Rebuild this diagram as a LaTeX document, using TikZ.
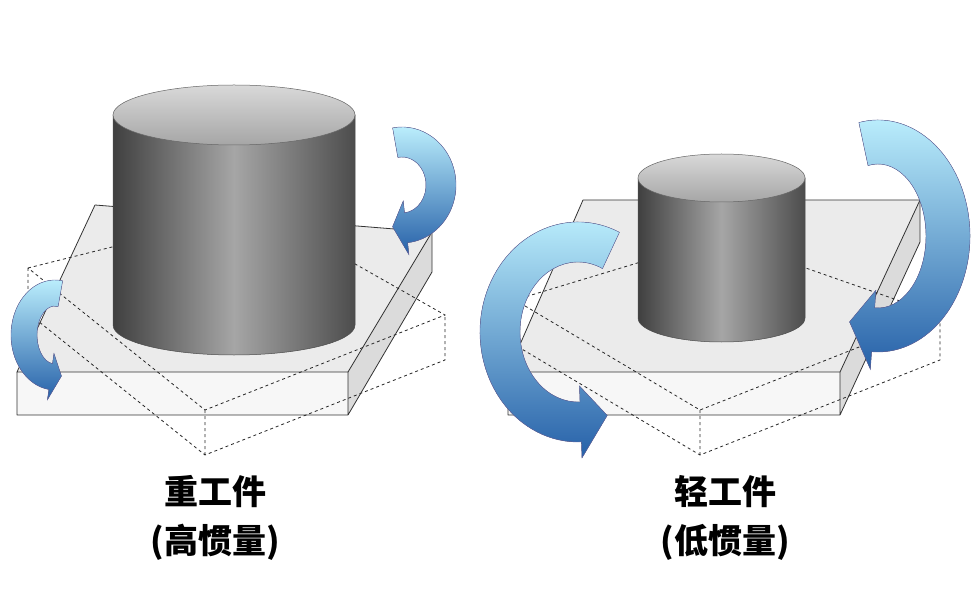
\documentclass[tikz,border=0pt]{standalone}
\usepackage{fontspec}
\newfontfamily\cjk{Noto Sans CJK SC}
\begin{document}
\begin{tikzpicture}[x=1pt,y=-1pt,
  plate/.style={draw=black!80,line width=0.8pt,line join=round},
  dplate/.style={draw=black!85,dashed,line width=0.8pt},
  lbl/.style={font=\cjk\bfseries\fontsize{34}{38}\selectfont}]
\useasboundingbox (0,0) rectangle (976,609);
\fill[white] (0,0) rectangle (976,609);
% ribbon macro: cx cy rx ry w a1 a2 sign
\newcommand\ribbon[8]{%
 \begin{scope}[shift={(#1,#2)}]
  \pgfmathsetmacro\ox{#3}\pgfmathsetmacro\oy{#4}
  \pgfmathsetmacro\ix{#3-#5}\pgfmathsetmacro\iy{#4-#5}
  \pgfmathsetmacro\fx{#3+0.4*#5}\pgfmathsetmacro\fy{#4+0.4*#5}
  \pgfmathsetmacro\gx{#3-1.4*#5}\pgfmathsetmacro\gy{#4-1.4*#5}
  \pgfmathsetmacro\mx{#3-0.5*#5}\pgfmathsetmacro\my{#4-0.5*#5}
  \pgfmathsetmacro\ta{#7+#8*20}
  \fill[top color=blue!20!cyan!25!white,bottom color=blue!55!cyan!60!black!85,draw=blue!40!black!60,line width=0.4pt]
   ({\ox*cos(#6)},{\oy*sin(#6)}) arc[start angle=#6,end angle=#7,x radius=\ox,y radius=\oy]
   -- ({\fx*cos(#7)},{\fy*sin(#7)}) -- ({\mx*cos(\ta)},{\my*sin(\ta)}) -- ({\gx*cos(#7)},{\gy*sin(#7)})
   -- ({\ix*cos(#7)},{\iy*sin(#7)}) arc[start angle=#7,end angle=#6,x radius=\ix,y radius=\iy] -- cycle;
 \end{scope}}
\newcommand\cyl[5]{% x1 x2 ytop ybot ry
  \pgfmathsetmacro\cx{(#1+#2)/2}\pgfmathsetmacro\rx{(#2-#1)/2}
  \shade[left color=black!75,right color=black!70,middle color=black!35,draw=black!70,line width=0.5pt]
   (#1,#3) -- (#1,#4) arc[start angle=180,end angle=0,x radius=\rx,y radius=#5] -- (#2,#3) -- cycle;
  \shade[top color=black!15,bottom color=black!35,draw=black!60,line width=0.5pt]
   (\cx,#3) ellipse[x radius=\rx,y radius=#5];}
% ---- left plate
\fill[black!8] (17,372) -- (95,205) -- (432,232) -- (348,372) -- cycle;
\fill[black!14] (348,372) -- (432,232) -- (432,272) -- (348,415) -- cycle;
\fill[black!3] (17,372) rectangle (348,415);
\draw[plate] (17,372) -- (95,205) -- (432,232) -- (348,372) -- cycle;
\draw[plate] (17,372) -- (17,415) -- (348,415) -- (348,372) (348,415) -- (432,272) -- (432,232);
\draw[dplate] (28,268) -- (260,210) -- (445,315) -- (205,410) -- cycle;
\draw[dplate] (28,268) -- (28,313) -- (205,455) -- (445,360) -- (445,315) (205,410) -- (205,455);
\cyl{113}{355}{115}{325}{30}
\ribbon{402}{185}{54}{58}{30}{-100}{84}{1}
\ribbon{55}{335}{44}{55}{26}{-80}{-262}{-1}
% ---- right plate
\fill[black!8] (508,372) -- (583,200) -- (920,200) -- (840,372) -- cycle;
\fill[black!14] (840,372) -- (920,200) -- (920,242) -- (840,415) -- cycle;
\fill[black!3] (508,372) rectangle (840,415);
\draw[plate] (508,372) -- (583,200) -- (920,200) -- (840,372) -- cycle;
\draw[plate] (508,372) -- (508,415) -- (840,415) -- (840,372) (840,415) -- (920,242) -- (920,200);
\draw[dplate] (515,300) -- (720,238) -- (940,315) -- (700,410) -- cycle;
\draw[dplate] (515,300) -- (515,345) -- (700,455) -- (940,360) -- (940,315) (700,410) -- (700,455);
\cyl{638}{805}{178}{318}{24}
\ribbon{578}{332}{98}{110}{40}{-65}{-272}{-1}
\ribbon{878}{236}{92}{116}{44}{-102}{94}{1}
% ---- labels
\node[lbl] (t1) at (215,492) {重工件};
\node[lbl] (t2) at (215,542) {(高惯量)};
\node[lbl] (t3) at (725,492) {轻工件};
\node[lbl] (t4) at (725,542) {(低惯量)};
\end{tikzpicture}
\end{document}
